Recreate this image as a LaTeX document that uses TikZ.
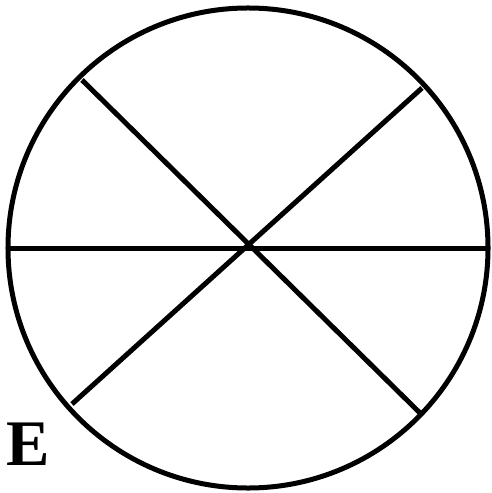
\documentclass[tikz,border=0pt]{standalone}
\usepackage{fontspec}
\setmainfont{Liberation Serif}
\begin{document}
\begin{tikzpicture}[x=0.2mm,y=-0.2mm,
    wheel/.style={line width=1mm},
    spoke/.style={line width=1mm}]
    \useasboundingbox (0,0) rectangle (491,493);

    % Draw the outline of the wheel
    \coordinate (hub) at (248,248);
    \draw[wheel] (hub) circle [radius=48mm];

    % Draw the spokes
    \coordinate (w) at (8,248);
    \coordinate (e) at (489,248);
    \coordinate (nw) at (82,80);
    \coordinate (se) at (420,413);
    \coordinate (ne) at (422,88);
    \coordinate (sw) at (72,404);
    \draw[spoke] (w) -- (e);
    \draw[spoke] (nw) -- (se);
    \draw[spoke] (ne) -- (sw);

    % Label the panel
    \node[font=\fontsize{37}{40}\selectfont\bfseries] (label) at (28,444) {E};
\end{tikzpicture}
\end{document}
